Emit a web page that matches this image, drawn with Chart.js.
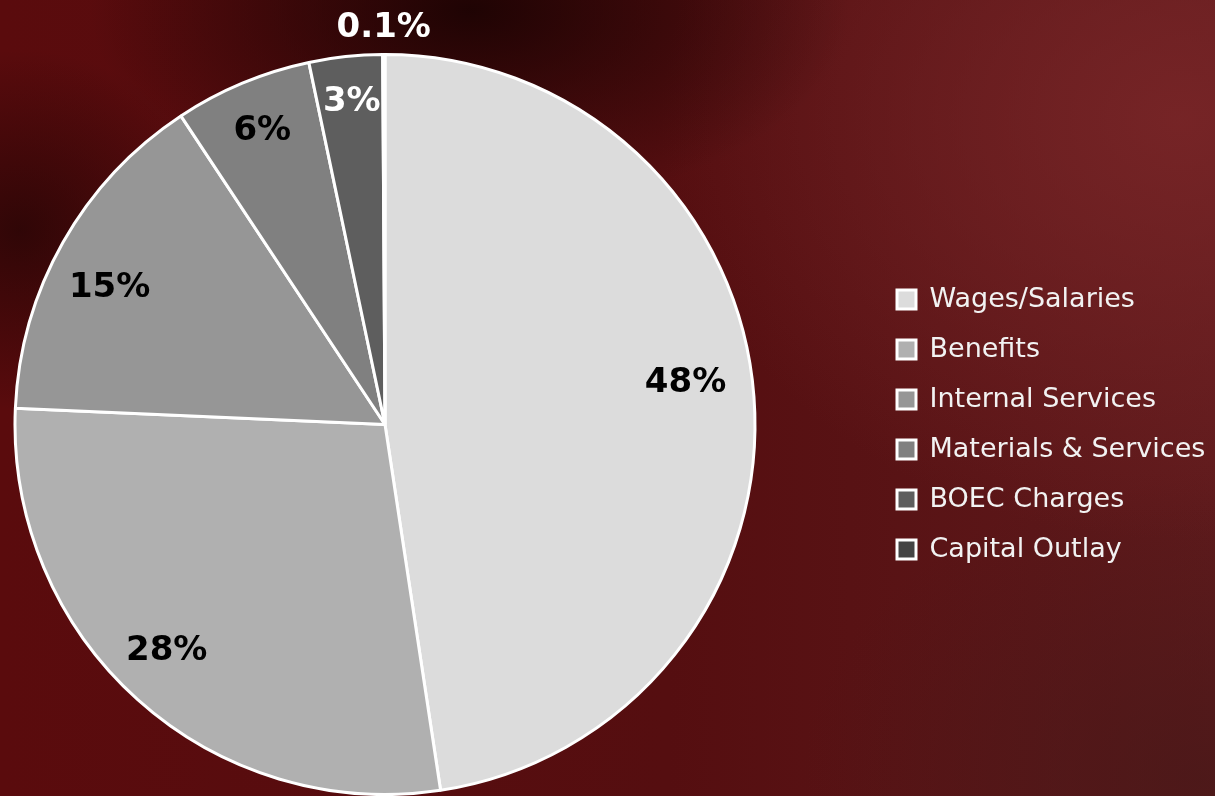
<!DOCTYPE html>
<html>
<head>
  <title>Budget by Category</title>
  <script src="https://cdn.jsdelivr.net/npm/chart.js"></script>
  <style>
    html, body { margin: 0; padding: 0; }
    body {
      width: 1215px; height: 796px; overflow: hidden;
      background:
        radial-gradient(ellipse 380px 200px at 470px 10px, rgba(28,3,3,0.95), rgba(28,3,3,0)),
        radial-gradient(ellipse 200px 180px at 20px 230px, rgba(30,4,4,0.7), rgba(30,4,4,0)),
        radial-gradient(ellipse 520px 420px at 1180px 120px, rgba(122,38,40,0.85), rgba(122,38,40,0)),
        radial-gradient(ellipse 400px 300px at 1200px 780px, rgba(70,24,24,0.7), rgba(70,24,24,0)),
        linear-gradient(90deg, #5a0b0d 0%, #550e10 55%, #5e1a1c 100%);
    }
  </style>
</head>
<body>
  <canvas id="pieChart" width="1215" height="796"></canvas>

  <script>
    const categories = ['Wages/Salaries', 'Benefits', 'Internal Services', 'Materials & Services', 'BOEC Charges', 'Capital Outlay'];
    const shares = [47.6, 28.1, 15.0, 6.0, 3.2, 0.1];
    const shareLabels = ['48%', '28%', '15%', '6%', '3%', '0.1%'];

    const sliceColors = ['#dcdcdc', '#b0b0b0', '#969696', '#808080', '#5e5e5e', '#444444'];
    const labelColors = ['#000', '#000', '#000', '#000', '#fff', '#fff'];
    // where each label sits: fraction of the outer radius, fraction along the slice's angle
    const labelRadius = [0.82, 0.85, 0.83, 0.86, 0.875, 1.07];
    const labelAngle = [0.479, 0.52, 0.44, 0.5, 0.52, 0.5];

    // wide legend box so the pie is centred at x=385, items pushed right afterwards
    const legendPlacement = {
      id: 'legendPlacement',
      beforeInit(chart) {
        const fit = chart.legend.fit;
        chart.legend.fit = function () {
          fit.call(this);
          this.width = 445;
        };
      },
      afterLayout(chart) {
        chart.legend.left += 104;
        chart.legend.right += 104;
      }
    };

    // percentage labels on / above the slices
    const sliceLabels = {
      id: 'sliceLabels',
      afterDatasetsDraw(chart) {
        const ctx = chart.ctx;
        chart.getDatasetMeta(0).data.forEach((arc, i) => {
          const p = arc.getProps(['x', 'y', 'startAngle', 'endAngle', 'outerRadius'], true);
          const a = p.startAngle + (p.endAngle - p.startAngle) * labelAngle[i];
          const r = p.outerRadius * labelRadius[i];
          ctx.save();
          ctx.font = 'bold 34px "DejaVu Sans"';
          ctx.fillStyle = labelColors[i];
          ctx.textAlign = 'center';
          ctx.textBaseline = 'middle';
          ctx.fillText(shareLabels[i], p.x + Math.cos(a) * r, p.y + Math.sin(a) * r);
          ctx.restore();
        });
      }
    };

    new Chart(document.getElementById('pieChart'), {
      type: 'pie',
      data: {
        labels: categories,
        datasets: [{
          data: shares,
          backgroundColor: sliceColors,
          borderColor: '#ffffff',
          borderWidth: 3
        }]
      },
      options: {
        responsive: false,
        animation: false,
        layout: { padding: { top: 53, bottom: 0, left: 0, right: 0 } },
        plugins: {
          tooltip: { enabled: false },
          legend: {
            position: 'right',
            labels: {
              color: '#f2f2f2',
              font: { family: 'DejaVu Sans', size: 27 },
              boxWidth: 19,
              boxHeight: 19,
              padding: 23
            }
          }
        }
      },
      plugins: [legendPlacement, sliceLabels]
    });
  </script>
</body>
</html>
